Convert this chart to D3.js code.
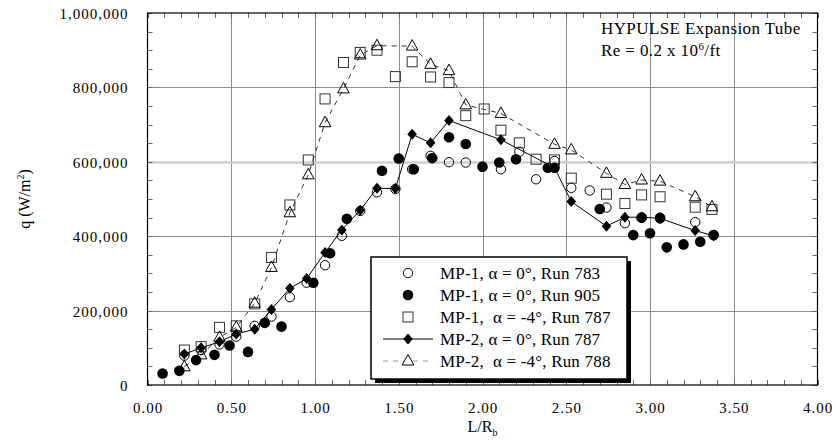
<!DOCTYPE html>
<html>
<head>
<meta charset="utf-8">
<script src="https://cdn.jsdelivr.net/npm/d3@7"></script>
<style>
  html, body { margin: 0; padding: 0; background: #fff; }
  svg { display: block; }
  text { font-family: "Liberation Serif", "Times New Roman", serif; fill: #000; }
</style>
</head>
<body>
<svg id="chart" width="836" height="444"></svg>
<script>
// ---------------- DATA ----------------
const xTicks = [0, 0.5, 1, 1.5, 2, 2.5, 3, 3.5, 4];
const xTickLabels = ["0.00", "0.50", "1.00", "1.50", "2.00", "2.50", "3.00", "3.50", "4.00"];
const yTicks = [0, 200000, 400000, 600000, 800000, 1000000];
const yTickLabels = ["0", "200,000", "400,000", "600,000", "800,000", "1,000,000"];

// MP-1, alpha = 0 deg, Run 783 (open circles)
const run783_x = [0.22, 0.32, 0.43, 0.53, 0.64, 0.74, 0.85, 0.95, 1.06, 1.16, 1.27, 1.37, 1.48, 1.58, 1.69, 1.80, 1.90, 2.11, 2.22, 2.32, 2.43, 2.53, 2.64, 2.74, 2.85, 2.95, 3.06, 3.27, 3.38];
const run783_q = [79000, 94000, 109000, 130000, 159000, 184000, 236000, 275000, 322000, 401000, 468000, 518000, 527000, 580000, 616000, 599000, 598000, 580000, 627000, 553000, 602000, 530000, 523000, 477000, 435000, 450000, 450000, 438000, 403000];

// MP-1, alpha = 0 deg, Run 905 (filled circles)
const run905_x = [0.09, 0.19, 0.29, 0.40, 0.49, 0.60, 0.70, 0.80, 0.99, 1.09, 1.19, 1.40, 1.50, 1.59, 1.70, 1.80, 1.90, 2.00, 2.10, 2.20, 2.39, 2.43, 2.70, 2.90, 2.95, 3.00, 3.06, 3.10, 3.20, 3.30, 3.38];
const run905_q = [31000, 38000, 67000, 81000, 106000, 89000, 167000, 157000, 275000, 354000, 447000, 576000, 609000, 580000, 610000, 666000, 648000, 587000, 598000, 607000, 584000, 584000, 473000, 403000, 450000, 408000, 448000, 370000, 378000, 385000, 403000];

// MP-1, alpha = -4 deg, Run 787 (open squares)
const run787s_x = [0.22, 0.32, 0.43, 0.53, 0.64, 0.74, 0.85, 0.96, 1.06, 1.17, 1.27, 1.37, 1.48, 1.58, 1.69, 1.80, 1.90, 2.01, 2.11, 2.22, 2.32, 2.43, 2.53, 2.74, 2.85, 2.95, 3.06, 3.27, 3.37];
const run787s_q = [94000, 103000, 155000, 159000, 218000, 343000, 484000, 605000, 769000, 867000, 894000, 900000, 829000, 869000, 828000, 813000, 724000, 742000, 685000, 651000, 607000, 605000, 556000, 513000, 488000, 511000, 506000, 478000, 472000];

// MP-2, alpha = 0 deg, Run 787 (filled diamonds, solid line)
const run787d_x = [0.22, 0.32, 0.43, 0.53, 0.64, 0.74, 0.85, 0.95, 1.06, 1.16, 1.27, 1.37, 1.48, 1.58, 1.69, 1.80, 2.11, 2.43, 2.53, 2.74, 2.85, 2.95, 3.06, 3.27, 3.38];
const run787d_q = [83000, 100000, 116000, 137000, 150000, 203000, 260000, 286000, 356000, 417000, 470000, 529000, 528000, 674000, 651000, 711000, 659000, 584000, 493000, 427000, 451000, 451000, 448000, 415000, 401000];

// MP-2, alpha = -4 deg, Run 788 (open triangles, dashed line)
const run788_x = [0.22, 0.32, 0.43, 0.53, 0.64, 0.74, 0.85, 0.96, 1.06, 1.17, 1.27, 1.37, 1.58, 1.69, 1.80, 1.90, 2.11, 2.43, 2.53, 2.74, 2.85, 2.95, 3.06, 3.27, 3.37];
const run788_q = [49000, 81000, 128000, 155000, 220000, 316000, 463000, 565000, 705000, 796000, 887000, 912000, 911000, 862000, 845000, 753000, 730000, 647000, 632000, 569000, 539000, 551000, 548000, 506000, 479000];

const legendLabels = ["MP-1, \u03b1 = 0\u00b0, Run 783", "MP-1, \u03b1 = 0\u00b0, Run 905", "MP-1,  \u03b1 = -4\u00b0, Run 787", "MP-2, \u03b1 = 0\u00b0, Run 787", "MP-2,  \u03b1 = -4\u00b0, Run 788"];

// ---------------- CHART ----------------
const W = 836, H = 444;
const margin = { left: 147.5, right: 18.5, top: 13, bottom: 59 };
const svg = d3.select("#chart");
const x = d3.scaleLinear().domain([0, 4]).range([margin.left, W - margin.right]);
const y = d3.scaleLinear().domain([0, 1000000]).range([H - margin.bottom, margin.top]);
const x0 = x.range()[0], x1 = x.range()[1], y0 = y.range()[0], y1 = y.range()[1];

const zip = (a, b) => a.map((v, i) => [v, b[i]]);

// gridlines
const g = svg.append("g");
g.selectAll(".vg").data(xTicks.slice(1, -1)).join("line")
  .attr("x1", d => Math.round(x(d)) + 0.5).attr("x2", d => Math.round(x(d)) + 0.5)
  .attr("y1", y1).attr("y2", y0).attr("stroke", "#8c8c8c").attr("stroke-width", 1);
g.selectAll(".hg").data(yTicks.slice(1, -1)).join("line")
  .attr("x1", x0).attr("x2", x1)
  .attr("y1", d => Math.round(y(d)) + 0.5).attr("y2", d => Math.round(y(d)) + 0.5)
  .attr("stroke", d => d === 600000 ? "#cfcfcf" : "#8c8c8c")
  .attr("stroke-width", d => d === 600000 ? 2.5 : 1);

// minor/major ticks (inward)
const xMinor = d3.range(0, 4.0001, 0.1);
const yMinor = d3.range(0, 1000001, 50000);
const tg = svg.append("g").attr("stroke", "#666").attr("stroke-width", 1);
xMinor.forEach(v => {
  const px = Math.round(x(v)) + 0.5;
  tg.append("line").attr("x1", px).attr("x2", px).attr("y1", y0).attr("y2", y0 - 5);
  tg.append("line").attr("x1", px).attr("x2", px).attr("y1", y1).attr("y2", y1 + 5);
});
yMinor.forEach(v => {
  const py = Math.round(y(v)) + 0.5;
  tg.append("line").attr("x1", x0).attr("x2", x0 + 5).attr("y1", py).attr("y2", py);
  tg.append("line").attr("x1", x1).attr("x2", x1 - 5).attr("y1", py).attr("y2", py);
});

// axes labels via d3 axes
const xAxis = d3.axisBottom(x).tickValues(xTicks).tickSize(0).tickPadding(17)
  .tickFormat((d, i) => xTickLabels[i]);
const yAxis = d3.axisLeft(y).tickValues(yTicks).tickSize(0).tickPadding(19)
  .tickFormat((d, i) => yTickLabels[i]);
const xa = svg.append("g").attr("transform", `translate(0,${y0})`).call(xAxis);
const ya = svg.append("g").attr("transform", `translate(${x0},0)`).call(yAxis);
[xa, ya].forEach(a => {
  a.attr("font-family", null).attr("font-size", null);
  a.select(".domain").remove();
  a.selectAll("text").style("font-family", "'Liberation Serif', serif").style("font-size", "15px")
    .style("letter-spacing", "1px").attr("fill", "#000");
});
ya.selectAll("text").attr("dy", "0.36em");
svg.append("rect").attr("x", x0).attr("y", y1).attr("width", x1 - x0).attr("height", y0 - y1)
  .attr("fill", "none").attr("stroke", "#000").attr("stroke-width", 1.2);

// axis titles
svg.append("text").attr("transform", `translate(30,${(y0 + y1) / 2}) rotate(-90)`)
  .attr("text-anchor", "middle").style("font-size", "16px")
  .html('q (W/m<tspan dy="-6" style="font-size:10px">2</tspan><tspan dy="6">)</tspan>');
svg.append("text").attr("x", x(2)).attr("y", 432).attr("text-anchor", "middle").style("font-size", "16px")
  .html('L/R<tspan dy="4" style="font-size:10px">b</tspan>');

// annotation
svg.append("text").attr("x", 601).attr("y", 34).style("font-size", "17px").style("letter-spacing", "0.4px")
  .text("HYPULSE Expansion Tube");
svg.append("text").attr("x", 601).attr("y", 56).style("font-size", "17px").style("letter-spacing", "0.4px")
  .html('Re = 0.2 x 10<tspan dy="-6" style="font-size:11px">6</tspan><tspan dy="6">/ft</tspan>');

// marker path helpers
const diamondPath = (cx, cy) => `M${cx},${cy - 5.5}L${cx + 4.8},${cy}L${cx},${cy + 5.5}L${cx - 4.8},${cy}Z`;
const triPath = (cx, cy) => `M${cx},${cy - 6.5}L${cx + 5.8},${cy + 4}L${cx - 5.8},${cy + 4}Z`;

const plot = svg.append("g");
// lines
const line = d3.line().x(d => x(d[0])).y(d => y(d[1]));
plot.append("path").datum(zip(run788_x, run788_q)).attr("d", line)
  .attr("fill", "none").attr("stroke", "#333").attr("stroke-width", 1).attr("stroke-dasharray", "5,5");
plot.append("path").datum(zip(run787d_x, run787d_q)).attr("d", line)
  .attr("fill", "none").attr("stroke", "#000").attr("stroke-width", 1);

// filled circles
plot.selectAll(".f905").data(zip(run905_x, run905_q)).join("circle")
  .attr("cx", d => x(d[0])).attr("cy", d => y(d[1])).attr("r", 5.3).attr("fill", "#000");
// open circles
plot.selectAll(".o783").data(zip(run783_x, run783_q)).join("circle")
  .attr("cx", d => x(d[0])).attr("cy", d => y(d[1])).attr("r", 4.7)
  .attr("fill", "none").attr("stroke", "#000").attr("stroke-width", 1);
// squares
plot.selectAll(".s787").data(zip(run787s_x, run787s_q)).join("rect")
  .attr("x", d => x(d[0]) - 5).attr("y", d => y(d[1]) - 5).attr("width", 10).attr("height", 10)
  .attr("fill", "none").attr("stroke", "#333").attr("stroke-width", 1);
// diamonds
plot.selectAll(".d787").data(zip(run787d_x, run787d_q)).join("path")
  .attr("d", d => diamondPath(x(d[0]), y(d[1]))).attr("fill", "#000");
// triangles
plot.selectAll(".t788").data(zip(run788_x, run788_q)).join("path")
  .attr("d", d => triPath(x(d[0]), y(d[1])))
  .attr("fill", "none").attr("stroke", "#000").attr("stroke-width", 1);

// legend
const lg = svg.append("g");
const lx = 371, ly = 257, lw = 256, lh = 122;
lg.append("rect").attr("x", lx + 4).attr("y", ly + 4).attr("width", lw).attr("height", lh).attr("fill", "#000");
lg.append("rect").attr("x", lx).attr("y", ly).attr("width", lw).attr("height", lh)
  .attr("fill", "#fff").attr("stroke", "#000").attr("stroke-width", 1.5);
const rowY = [273, 295, 317, 339, 361];
const symX = 408;
legendLabels.forEach((lab, i) => {
  const cy = rowY[i];
  lg.append("text").attr("x", 440).attr("y", cy).attr("dy", "0.35em")
    .style("font-size", "17px").style("letter-spacing", "0.2px").style("white-space", "pre").text(lab);
  if (i === 0) lg.append("circle").attr("cx", symX).attr("cy", cy).attr("r", 4.7).attr("fill", "none").attr("stroke", "#000");
  if (i === 1) lg.append("circle").attr("cx", symX).attr("cy", cy).attr("r", 5.3).attr("fill", "#000");
  if (i === 2) lg.append("rect").attr("x", symX - 5).attr("y", cy - 5).attr("width", 10).attr("height", 10).attr("fill", "none").attr("stroke", "#333");
  if (i === 3) {
    lg.append("line").attr("x1", 383).attr("x2", 433).attr("y1", cy).attr("y2", cy).attr("stroke", "#000");
    lg.append("path").attr("d", diamondPath(symX, cy)).attr("fill", "#000");
  }
  if (i === 4) {
    lg.append("line").attr("x1", 383).attr("x2", 433).attr("y1", cy).attr("y2", cy)
      .attr("stroke", "#999").attr("stroke-dasharray", "5,5");
    lg.append("path").attr("d", triPath(symX, cy)).attr("fill", "#fff").attr("stroke", "#000");
  }
});
</script>
</body>
</html>
